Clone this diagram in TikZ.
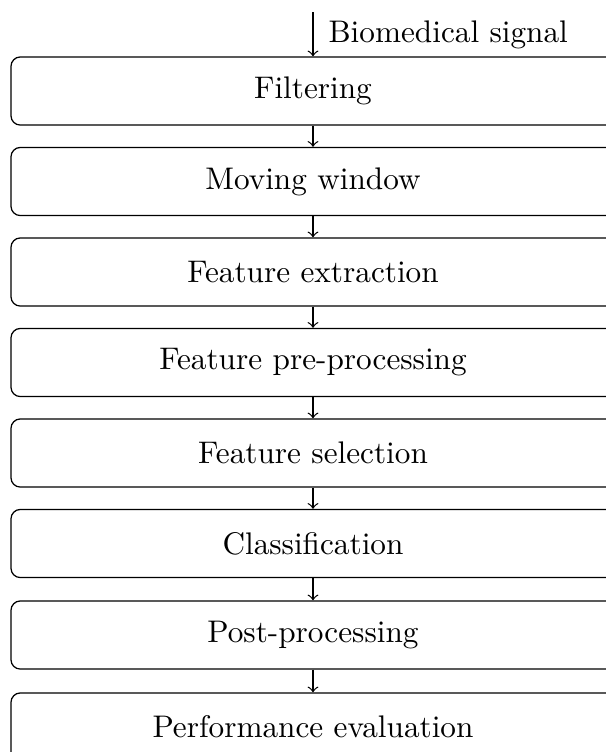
\documentclass[tikz,border=0pt]{standalone}
\begin{document}
\begin{tikzpicture}[x=0.32pt, y=-0.32pt,
  stage/.style={draw, rounded corners=3pt, minimum width=193.3pt, minimum height=21.8pt, inner sep=0pt},
  flow/.style={->}]
\useasboundingbox (0,0) rectangle (606,752);
\node[stage] (b1) at (313,91.0) {Filtering};
\node[stage] (b2) at (313,181.5) {Moving window};
\node[stage] (b3) at (313,272.0) {Feature extraction};
\node[stage] (b4) at (313,362.5) {Feature pre-processing};
\node[stage] (b5) at (313,453.0) {Feature selection};
\node[stage] (b6) at (313,543.5) {Classification};
\node[stage] (b7) at (313,635.0) {Post-processing};
\node[stage] (b8) at (313,727.0) {Performance evaluation};
\coordinate (in) at (313,12);
\draw[flow] (in) -- (b1.north);
\node[anchor=base west, inner sep=0pt] (lbl) at (328,42) {Biomedical signal};
\draw[flow] (b1) -- (b2);
\draw[flow] (b2) -- (b3);
\draw[flow] (b3) -- (b4);
\draw[flow] (b4) -- (b5);
\draw[flow] (b5) -- (b6);
\draw[flow] (b6) -- (b7);
\draw[flow] (b7) -- (b8);
\end{tikzpicture}
\end{document}
